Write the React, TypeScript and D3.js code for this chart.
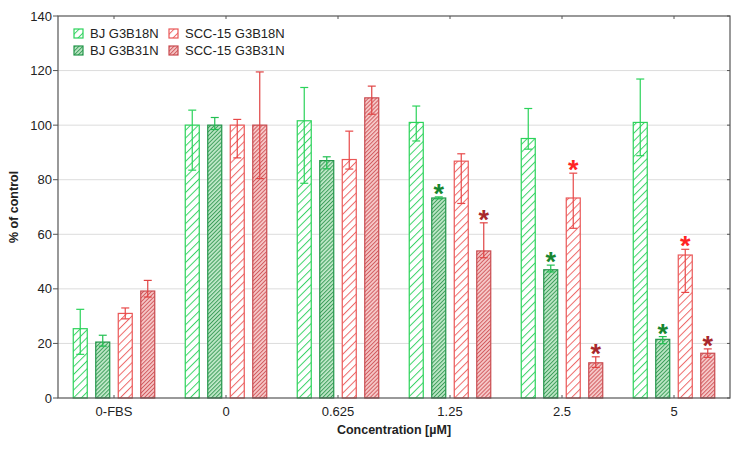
import React, { useEffect, useRef } from 'react';
import * as d3 from 'd3';

const categories = ['0-FBS', '0', '0.625', '1.25', '2.5', '5'];
const seriesNames = ['BJ G3B18N', 'BJ G3B31N', 'SCC-15 G3B18N', 'SCC-15 G3B31N'];

const bj18 = [25.4, 100, 101.6, 101, 95.1, 101];
const bj18Hi = [32.5, 105.5, 113.8, 107, 106.1, 116.9];
const bj18Lo = [16, 83.5, 78.7, 94.2, 91.2, 88.8];

const bj31 = [20.5, 100, 87, 73.3, 47, 21.5];
const bj31Hi = [23, 102.8, 88.4, 73.7, 48.7, 22.5];
const bj31Lo = [19, 98.4, 84, 73, 46.2, 19.9];

const scc18 = [31, 100, 87.4, 86.8, 73.3, 52.4];
const scc18Hi = [33, 102.1, 97.8, 89.5, 82.4, 54.5];
const scc18Lo = [29, 88, 83.9, 71.3, 62.2, 38.7];

const scc31 = [39.2, 100, 110, 53.9, 12.9, 16.4];
const scc31Hi = [43.1, 119.5, 114.3, 64.2, 15.1, 18];
const scc31Lo = [37, 80.4, 104, 51.4, 11.2, 14.9];

// significance marks per series (true = asterisk)
const bj31Sig = [false, false, false, true, true, true];
const scc18Sig = [false, false, false, false, true, true];
const scc31Sig = [false, false, false, true, true, true];

const yTicks = [0, 20, 40, 60, 80, 100, 120, 140];

const styles = [
  { id: 'hBj18', stroke: '#2bd35a', fill: '#ffffff', hatch: '#3bd468', gap: 5.5, err: '#2bd35a', star: '' },
  { id: 'hBj31', stroke: '#23964a', fill: '#bfe8c8', hatch: '#3f9f5c', gap: 2.8, err: '#22c052', star: '#17862f' },
  { id: 'hScc18', stroke: '#ea5757', fill: '#ffffff', hatch: '#ee6a6a', gap: 5.5, err: '#e84848', star: '#ff2424' },
  { id: 'hScc31', stroke: '#c94a4f', fill: '#f6c9c9', hatch: '#d25c60', gap: 2.8, err: '#e04444', star: '#a8282c' },
];

export default function App() {
  const svgRef = useRef<SVGSVGElement>(null);
  const width = 739;
  const height = 454;

  useEffect(() => {
    const svg = d3.select(svgRef.current);
    svg.selectAll('*').remove();

    const margin = { top: 16, right: 9, bottom: 56, left: 58 };
    const innerWidth = width - margin.left - margin.right;
    const innerHeight = height - margin.top - margin.bottom;
    const font = '"Liberation Sans", Arial, sans-serif';

    // Hatch patterns
    const defs = svg.append('defs');
    styles.forEach(s => {
      const p = defs.append('pattern')
        .attr('id', s.id)
        .attr('patternUnits', 'userSpaceOnUse')
        .attr('width', s.gap)
        .attr('height', s.gap)
        .attr('patternTransform', 'rotate(45)');
      p.append('rect').attr('width', s.gap).attr('height', s.gap).attr('fill', s.fill);
      p.append('line')
        .attr('x1', 0.5).attr('x2', 0.5)
        .attr('y1', 0).attr('y2', s.gap)
        .style('stroke', s.hatch)
        .style('stroke-width', 1);
    });

    const g = svg.append('g').attr('transform', `translate(${margin.left},${margin.top})`);

    const x0 = d3.scaleBand().domain(categories).range([0, innerWidth]);
    const groupW = 81.5;
    const x1 = d3.scaleBand()
      .domain(seriesNames)
      .range([(x0.bandwidth() - groupW) / 2, (x0.bandwidth() + groupW) / 2])
      .paddingInner(0.378);
    const y = d3.scaleLinear().domain([0, 140]).range([innerHeight, 0]);

    // Grid lines
    g.selectAll('.grid')
      .data(yTicks.slice(1, -1))
      .enter()
      .append('line')
      .attr('x1', 0)
      .attr('x2', innerWidth)
      .attr('y1', d => y(d))
      .attr('y2', d => y(d))
      .style('stroke', '#dcdcdc')
      .style('stroke-width', 1);

    const values = [bj18, bj31, scc18, scc31];
    const his = [bj18Hi, bj31Hi, scc18Hi, scc31Hi];
    const los = [bj18Lo, bj31Lo, scc18Lo, scc31Lo];
    const sigs = [null, bj31Sig, scc18Sig, scc31Sig];

    values.forEach((vals, si) => {
      const s = styles[si];
      const name = seriesNames[si];
      const bw = x1.bandwidth();
      categories.forEach((c, ci) => {
        const bx = (x0(c) || 0) + (x1(name) || 0);
        const cx = bx + bw / 2;
        g.append('rect')
          .attr('x', bx)
          .attr('y', y(vals[ci]))
          .attr('width', bw)
          .attr('height', y(0) - y(vals[ci]))
          .attr('fill', `url(#${s.id})`)
          .style('stroke', s.stroke)
          .style('stroke-width', 1.2);

        const hi = y(his[si][ci]);
        const lo = y(los[si][ci]);
        const eg = g.append('g').style('stroke', s.err).style('stroke-width', 1.2);
        eg.append('line').attr('x1', cx).attr('x2', cx).attr('y1', hi).attr('y2', lo);
        eg.append('line').attr('x1', cx - 4).attr('x2', cx + 4).attr('y1', hi).attr('y2', hi);
        eg.append('line').attr('x1', cx - 4).attr('x2', cx + 4).attr('y1', lo).attr('y2', lo);

        const sig = sigs[si];
        if (sig && sig[ci]) {
          g.append('text')
            .attr('x', cx)
            .attr('y', hi - 9 + 15)
            .attr('text-anchor', 'middle')
            .style('font-family', font)
            .style('font-weight', 'bold')
            .style('font-size', '27px')
            .style('fill', s.star)
            .text('*');
        }
      });
    });

    // Frame
    g.append('rect')
      .attr('width', innerWidth)
      .attr('height', innerHeight)
      .attr('fill', 'none')
      .style('stroke', '#555')
      .style('stroke-width', 1.2);

    // Y axis (outward ticks on left, inward on right)
    g.selectAll('.ytick')
      .data(yTicks)
      .enter()
      .append('line')
      .attr('x1', -5)
      .attr('x2', 0)
      .attr('y1', d => y(d))
      .attr('y2', d => y(d))
      .style('stroke', '#555');
    g.selectAll('.ytickR')
      .data(yTicks)
      .enter()
      .append('line')
      .attr('x1', innerWidth - 3)
      .attr('x2', innerWidth)
      .attr('y1', d => y(d))
      .attr('y2', d => y(d))
      .style('stroke', '#555');
    g.selectAll('.ylab')
      .data(yTicks)
      .enter()
      .append('text')
      .attr('x', -6)
      .attr('y', d => y(d))
      .attr('dy', '0.35em')
      .attr('text-anchor', 'end')
      .style('font-family', font)
      .style('font-size', '13px')
      .style('fill', '#222')
      .text(d => d);

    // X axis (inward ticks top and bottom)
    g.selectAll('.xtick')
      .data(categories)
      .enter()
      .append('line')
      .attr('x1', d => (x0(d) || 0) + x0.bandwidth() / 2)
      .attr('x2', d => (x0(d) || 0) + x0.bandwidth() / 2)
      .attr('y1', innerHeight)
      .attr('y2', innerHeight - 3)
      .style('stroke', '#555');
    g.selectAll('.xtickT')
      .data(categories)
      .enter()
      .append('line')
      .attr('x1', d => (x0(d) || 0) + x0.bandwidth() / 2)
      .attr('x2', d => (x0(d) || 0) + x0.bandwidth() / 2)
      .attr('y1', 0)
      .attr('y2', 3)
      .style('stroke', '#555');
    g.selectAll('.xlab')
      .data(categories)
      .enter()
      .append('text')
      .attr('x', d => (x0(d) || 0) + x0.bandwidth() / 2)
      .attr('y', innerHeight + 18)
      .attr('text-anchor', 'middle')
      .style('font-family', font)
      .style('font-size', '13px')
      .style('fill', '#222')
      .text(d => d);

    // Axis titles
    g.append('text')
      .attr('x', innerWidth / 2)
      .attr('y', innerHeight + 36)
      .attr('text-anchor', 'middle')
      .style('font-family', font)
      .style('font-size', '12.5px')
      .style('font-weight', 'bold')
      .style('fill', '#222')
      .text('Concentration [µM]');
    g.append('text')
      .attr('transform', `translate(${-40},${innerHeight / 2}) rotate(-90)`)
      .attr('text-anchor', 'middle')
      .style('font-family', font)
      .style('font-size', '12.5px')
      .style('font-weight', 'bold')
      .style('fill', '#222')
      .text('% of control');

    // Legend
    const legend = g.append('g').attr('transform', 'translate(16, 17.5)');
    seriesNames.forEach((name, i) => {
      const col = Math.floor(i / 2);
      const row = i % 2;
      const item = legend.append('g').attr('transform', `translate(${col * 95},${row * 17})`);
      item.append('rect')
        .attr('x', 0)
        .attr('y', -4.5)
        .attr('width', 9)
        .attr('height', 9)
        .attr('fill', `url(#${styles[i].id})`)
        .style('stroke', styles[i].stroke)
        .style('stroke-width', 1.2);
      item.append('text')
        .attr('x', 16)
        .attr('y', 0)
        .attr('dy', '0.35em')
        .style('font-family', font)
        .style('font-size', '13px')
        .style('fill', '#222')
        .text(name);
    });
  }, []);

  return (
    <svg
      ref={svgRef}
      width={width}
      height={height}
      style={{ position: 'absolute', left: 0, top: 0, background: '#fff' }}
    />
  );
}
